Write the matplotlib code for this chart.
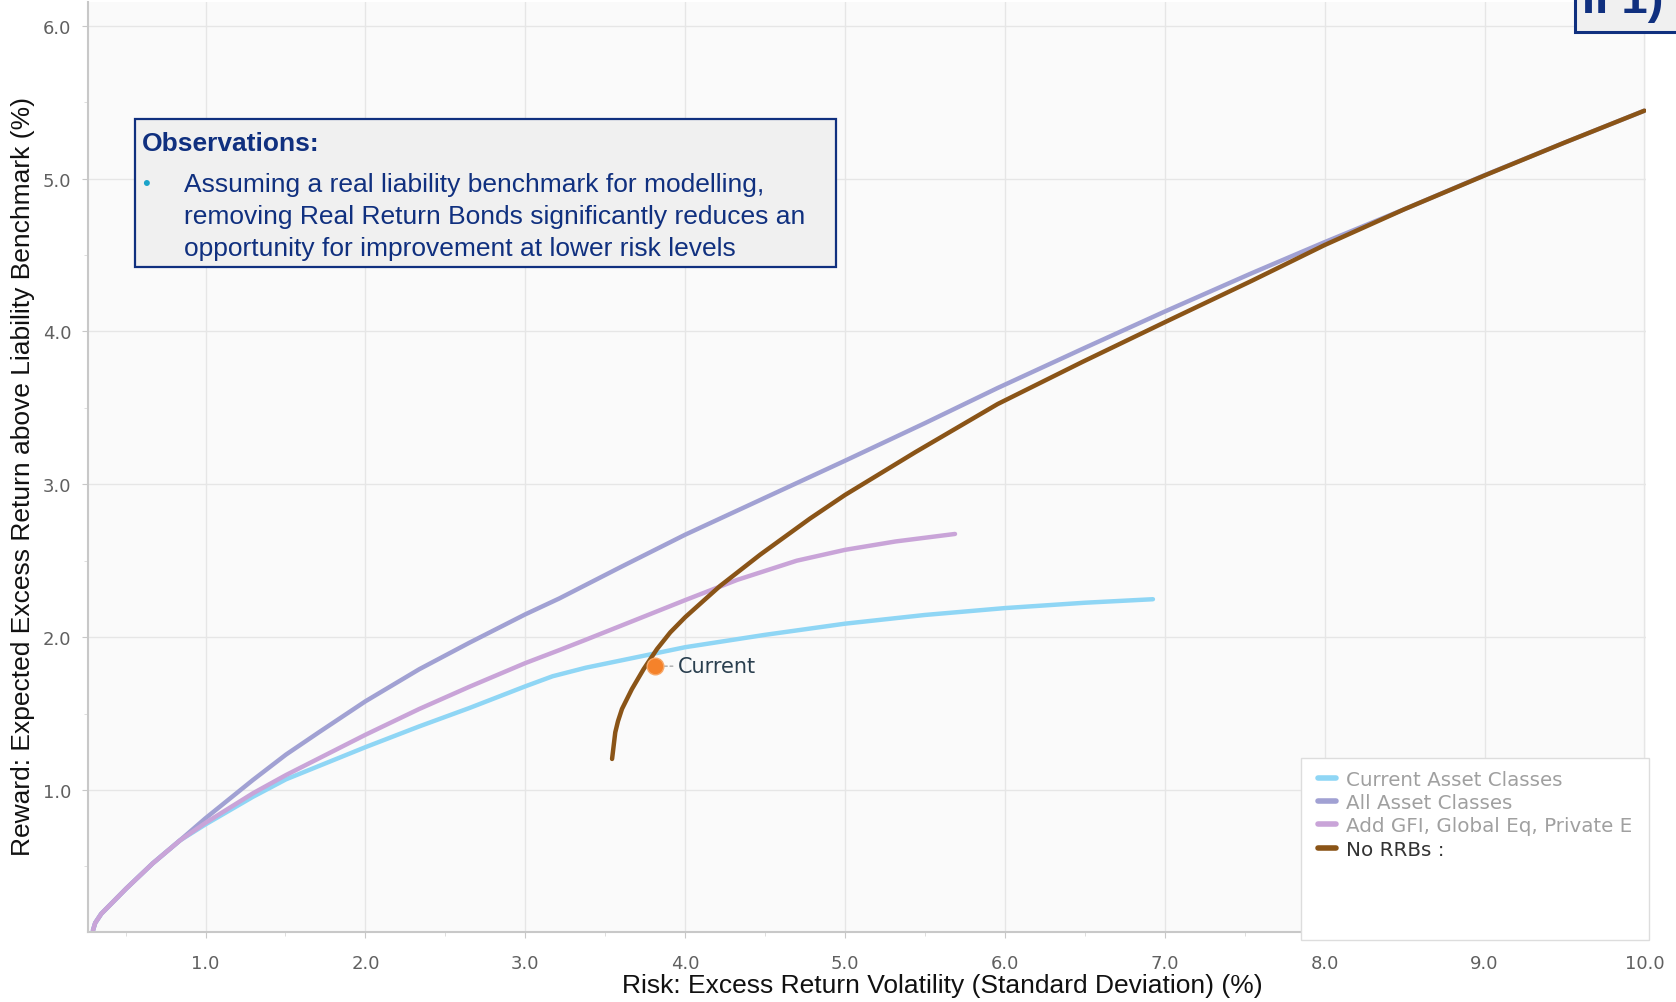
import matplotlib.pyplot as plt
from matplotlib.patches import Rectangle

# efficient frontiers (risk %, reward %)
current_x = [0.296, 0.31, 0.348, 0.504, 0.67, 0.84, 1.0, 1.296, 1.504, 2.0, 2.337, 2.65, 3.0, 3.171, 3.379,
             4.0, 4.5, 5.0, 5.5, 6.0, 6.5, 6.926]
current_y = [0.081, 0.13, 0.19, 0.355, 0.52, 0.67, 0.775, 0.955, 1.07, 1.28, 1.416, 1.536, 1.678, 1.744, 1.80,
             1.934, 2.015, 2.088, 2.145, 2.19, 2.225, 2.248]

all_x = [0.296, 0.31, 0.348, 0.504, 0.67, 0.84, 1.0, 1.296, 1.504, 1.71, 2.0, 2.337, 2.65, 3.0, 3.213, 3.6,
         4.0, 4.5, 5.0, 5.5, 5.955, 6.484, 7.0, 7.542, 8.0, 8.5, 9.0, 9.5, 10.0]
all_y = [0.081, 0.13, 0.19, 0.355, 0.52, 0.67, 0.815, 1.065, 1.232, 1.378, 1.58, 1.79, 1.963, 2.149, 2.253, 2.46,
         2.67, 2.912, 3.154, 3.40, 3.63, 3.885, 4.13, 4.38, 4.584, 4.80, 5.022, 5.235, 5.444]

gfi_x = [0.296, 0.31, 0.348, 0.504, 0.67, 0.84, 1.0, 1.296, 1.504, 2.0, 2.337, 2.65, 3.0, 3.213, 3.379, 3.708,
         4.0, 4.327, 4.698, 5.0, 5.317, 5.688]
gfi_y = [0.081, 0.13, 0.19, 0.355, 0.52, 0.67, 0.785, 0.978, 1.098, 1.361, 1.53, 1.675, 1.83, 1.915, 1.983, 2.12,
         2.242, 2.375, 2.50, 2.571, 2.626, 2.675]

norrb_x = [3.543, 3.563, 3.58, 3.605, 3.667, 3.74, 3.824, 3.907, 4.0, 4.115, 4.22, 4.47, 4.78, 5.0, 5.44, 5.955,
           6.484, 7.0, 7.542, 8.0, 8.5, 9.0, 9.5, 10.0]
norrb_y = [1.203, 1.377, 1.45, 1.53, 1.66, 1.79, 1.922, 2.031, 2.13, 2.238, 2.336, 2.54, 2.775, 2.93, 3.21, 3.525,
           3.80, 4.06, 4.33, 4.565, 4.80, 5.02, 5.235, 5.444]

point_x, point_y = 3.81, 1.81

labels = ["Current Asset Classes", "All Asset Classes", "Add GFI, Global Eq, Private E", "No RRBs :"]
colors = ["#8fd6f5", "#a1a1d3", "#c9a4d8", "#8a5417"]

x_ticks = [1, 2, 3, 4, 5, 6, 7, 8, 9, 10]
y_ticks = [1, 2, 3, 4, 5, 6]

navy = "#10307f"

fig = plt.figure(figsize=(16.76, 10.03), dpi=100)
ax = fig.add_axes([0.0525, 0.0698, 0.9296, 0.9272])
ax.set_facecolor("#fafafa")

series = [(current_x, current_y), (all_x, all_y), (gfi_x, gfi_y), (norrb_x, norrb_y)]
for (xs, ys), lab, c in zip(series, labels, colors):
    ax.plot(xs, ys, color=c, lw=3.2, label=lab, solid_capstyle="round", solid_joinstyle="round")

ax.plot([point_x], [point_y], "o", ms=12, color="#f5822a", mec="#f7a868", mew=1, zorder=5)
ax.annotate("Current", xy=(point_x, point_y), xytext=(17, 0), textcoords="offset points",
            ha="left", va="center", fontsize=15, color="#2a3f4f", family="DejaVu Sans",
            arrowprops=dict(arrowstyle="-", linestyle=(0, (2, 2)), color="#aaaaaa", lw=1, shrinkA=2, shrinkB=6))

ax.set_xlim(0.265, 10.01)
ax.set_ylim(0.071, 6.155)
ax.set_xticks(x_ticks)
ax.set_xticklabels([f"{v:.1f}" for v in x_ticks])
ax.set_yticks(y_ticks)
ax.set_yticklabels([f"{v:.1f}" for v in y_ticks])
ax.set_xticks([v + 0.5 for v in range(0, 10)], minor=True)
ax.set_yticks([v + 0.5 for v in range(0, 6)], minor=True)
ax.tick_params(axis="both", which="major", labelsize=13, labelcolor="#606060", color="#c8c8c8", length=4)
ax.tick_params(axis="x", which="major", pad=12)
ax.tick_params(axis="y", which="major", pad=8)
ax.tick_params(axis="both", which="minor", color="#d8d8d8", length=3)
ax.grid(True, which="major", color="#e6e6e6", lw=1)
ax.set_axisbelow(True)
for s in ["top", "right"]:
    ax.spines[s].set_visible(False)
for s in ["left", "bottom"]:
    ax.spines[s].set_color("#c8c8c8")
    ax.spines[s].set_linewidth(1.5)

fig.text(0.562, 0.017, "Risk: Excess Return Volatility (Standard Deviation) (%)", ha="center", va="center",
         fontsize=19, family="Liberation Sans", color="#111111")
fig.text(0.014, 0.525, "Reward: Expected Excess Return above Liability Benchmark (%)", ha="center", va="center",
         rotation=90, fontsize=19, family="Liberation Sans", color="#111111")

# observations box
fig.patches.append(Rectangle((0.0805, 0.7328), 0.4183, 0.1476, transform=fig.transFigure,
                             facecolor="#f0f0f0", edgecolor=navy, lw=1.6, zorder=3))
fig.text(142 / 1676, 1 - 144 / 1003, "Observations:", ha="left", va="center", fontsize=19,
         fontweight="bold", family="Liberation Sans", color=navy, zorder=4)
fig.text(146 / 1676, 1 - 184 / 1003, "\u2022", ha="center", va="center", fontsize=16,
         family="Liberation Sans", color="#1ba3c9", zorder=4)
body = ["Assuming a real liability benchmark for modelling,",
        "removing Real Return Bonds significantly reduces an",
        "opportunity for improvement at lower risk levels"]
for i, line in enumerate(body):
    fig.text(184 / 1676, 1 - (185 + 32 * i) / 1003, line, ha="left", va="center", fontsize=19,
             family="Liberation Sans", color=navy, zorder=4)

# clipped badge top right
fig.patches.append(Rectangle((1575 / 1676, 1 - 33 / 1003), 0.1, 0.1, transform=fig.transFigure,
                             facecolor="#f0f0f0", edgecolor=navy, lw=2.2, zorder=3))
fig.text(1582 / 1676, 1 - 13 / 1003, "II 1)", ha="left", va="baseline", fontsize=34,
         fontweight="bold", family="Liberation Sans", color=navy, zorder=4)

# legend
fig.patches.append(Rectangle((0.7763, 0.0618), 0.2076, 0.1815, transform=fig.transFigure,
                             facecolor="white", edgecolor="#dddddd", lw=1, zorder=3))
leg = fig.legend(loc="upper left", bbox_to_anchor=(1318 / 1676, 1 - 771 / 1003), frameon=False,
                 fontsize=14.3, handlelength=0.91, handletextpad=0.5, labelspacing=0.21, borderpad=0,
                 borderaxespad=0)
leg.set_zorder(5)
for t, c in zip(leg.get_texts(), ["#a0a0a0", "#a0a0a0", "#a0a0a0", "#333333"]):
    t.set_color(c)
for h in leg.get_lines():
    h.set_linewidth(4)

fig.savefig("out.png", dpi=100)
